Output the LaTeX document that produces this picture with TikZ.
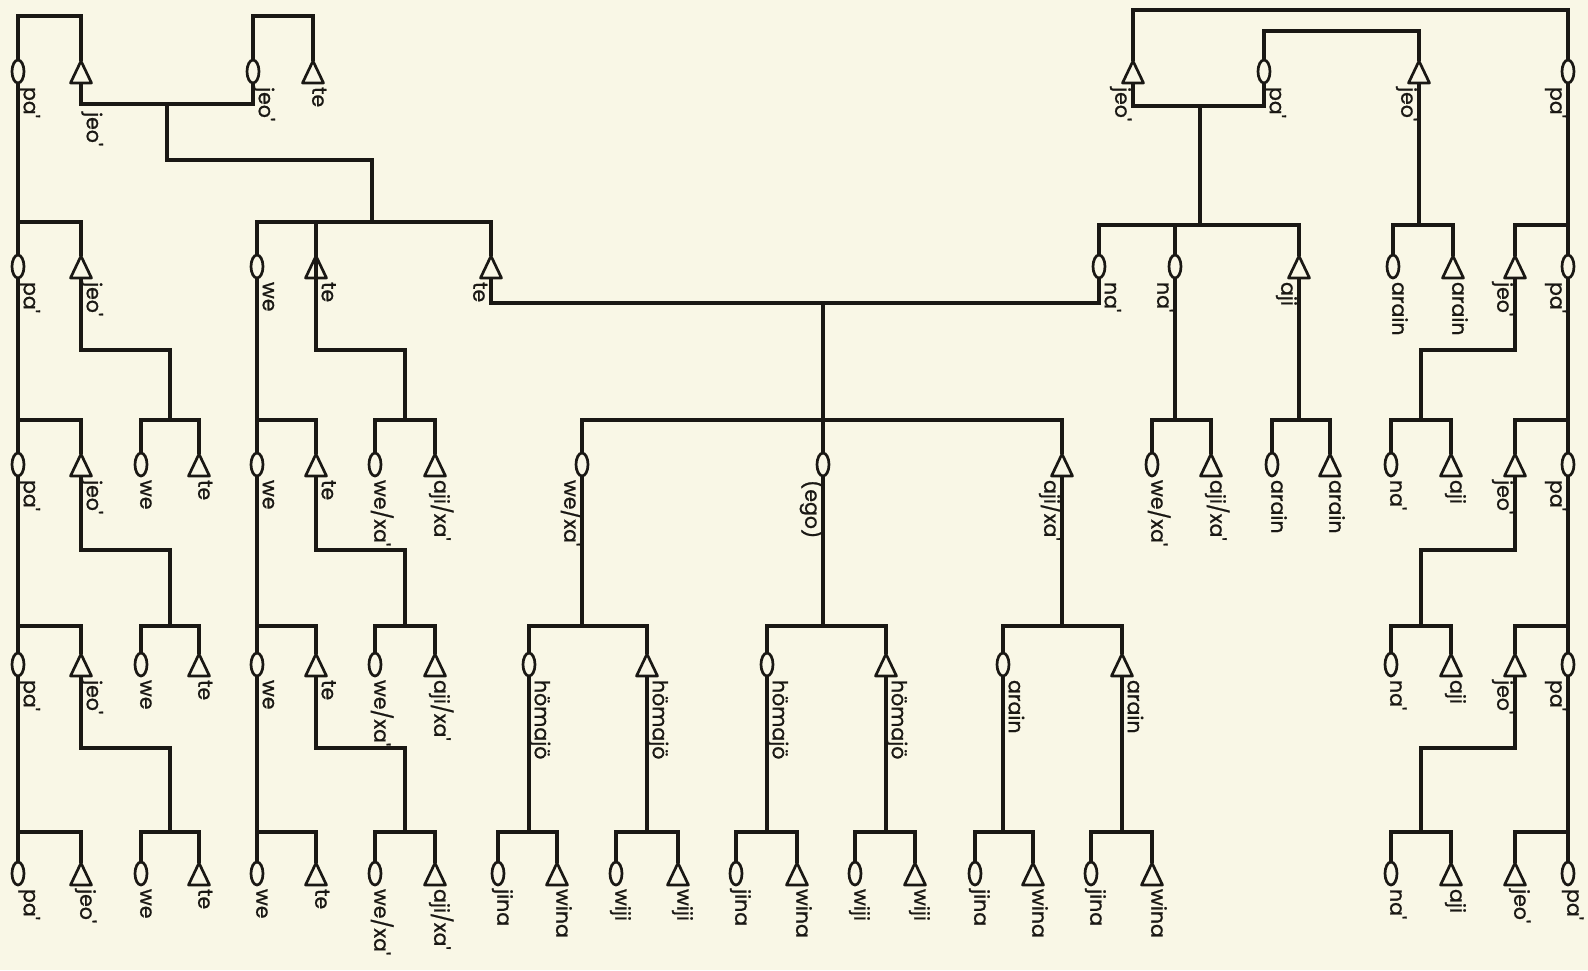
\documentclass[tikz,border=0pt]{standalone}
\usepackage{fontspec}
\setmainfont{Poppins}
\newfontfamily\labfamily{Poppins}[FakeBold=1]
\usetikzlibrary{shapes.geometric}
\definecolor{bg}{RGB}{249,247,230}
\definecolor{ink}{RGB}{26,24,20}
\newcommand{\labfont}{\labfamily\fontsize{20.5}{20.5}\selectfont}
\tikzset{
 ln/.style={draw=ink, line width=3.1pt},
 fem/.style={ellipse, draw=ink, fill=bg, line width=2.7pt, minimum width=12pt, minimum height=23pt, inner sep=0pt, outer sep=0pt, anchor=south},
 mal/.style={isosceles triangle, isosceles triangle stretches=true, shape border rotate=90, draw=ink, fill=bg, line width=2.7pt, line join=round, minimum width=21pt, minimum height=22pt, inner sep=0pt, outer sep=0pt, anchor=south},
 lab/.style={rotate=-90, inner sep=0pt, outer sep=0pt, font=\labfont, text=ink, anchor=mid west},
}
\newcommand{\labR}[3][4]{\node[lab] (t#2) at ([xshift=8.5pt,yshift=-#1pt]#2.south) {#3};}
\newcommand{\labL}[2]{\node[lab] (t#1) at ([xshift=-15pt,yshift=-4pt]#1.south) {#2};}
\newcommand{\labC}[2]{\node[lab] (t#1) at ([xshift=2pt,yshift=-4pt]#1.south) {#2};}
\newcommand{\sib}[3]{\draw[ln] (#1.north) |- (#2.north |- 0,#3) -- (#2.north);}
\newcommand{\down}[2]{\draw[ln] (#1.south) -- (#1.south |- 0,#2);}
\newcommand{\stepdown}[4]{\draw[ln] (#1.south) |- (#2,#3) -- (#2,#4);}
\begin{document}
\begin{tikzpicture}[x=1pt,y=-1pt]
\useasboundingbox (0,0) rectangle (1588,970);
\fill[bg] (0,0) rectangle (1588,970);

% ---------------- left section ----------------
\node[fem] (L1a) at (18,83) {};
\node[mal] (L1b) at (81,83) {};
\node[fem] (L1c) at (253,83) {};
\node[mal] (L1d) at (313,83) {};

\node[fem] (L2a) at (18,278) {};
\node[mal] (L2b) at (81,278) {};
\node[fem] (L2c) at (257,278) {};
\node[mal] (L2d) at (316,278) {};
\node[mal] (L2e) at (491,278) {};

\foreach \r/\y in {3/476,4/676,5/885}{
  \node[fem] (L\r a) at (18,\y) {};
  \node[mal] (L\r b) at (81,\y) {};
  \node[fem] (L\r c) at (141,\y) {};
  \node[mal] (L\r d) at (199,\y) {};
  \node[fem] (L\r e) at (257,\y) {};
  \node[mal] (L\r f) at (316,\y) {};
  \node[fem] (L\r g) at (375,\y) {};
  \node[mal] (L\r h) at (435,\y) {};
}

\sib{L1a}{L1b}{16}
\sib{L1c}{L1d}{16}
\draw[ln] (L1b.south) |- (L1c.south |- 0,104) -- (L1c.south);
\coordinate (mL) at (167,104);
\draw[ln] (mL) |- (372,160) -- (372,222);
\sib{L2c}{L2e}{222}
\down{L2d}{222}
\draw[ln] (L1a.south) -- (L2a.north);
\draw[ln] (L2a.north |- 0,222) -| (L2b.north);

% row 2 -> 3
\draw[ln] (L2a.south) -- (L3a.north);
\draw[ln] (L3a.north |- 0,420) -| (L3b.north);
\stepdown{L2b}{170}{350}{420}
\sib{L3c}{L3d}{420}
\draw[ln] (L2c.south) -- (L3e.north);
\draw[ln] (L3e.north |- 0,420) -| (L3f.north);
\stepdown{L2d}{405}{350}{420}
\sib{L3g}{L3h}{420}

% row 3 -> 4
\draw[ln] (L3a.south) -- (L4a.north);
\draw[ln] (L4a.north |- 0,626) -| (L4b.north);
\stepdown{L3b}{170}{550}{626}
\sib{L4c}{L4d}{626}
\draw[ln] (L3e.south) -- (L4e.north);
\draw[ln] (L4e.north |- 0,626) -| (L4f.north);
\stepdown{L3f}{405}{550}{626}
\sib{L4g}{L4h}{626}

% row 4 -> 5
\draw[ln] (L4a.south) -- (L5a.north);
\draw[ln] (L5a.north |- 0,832) -| (L5b.north);
\stepdown{L4b}{170}{748}{832}
\sib{L5c}{L5d}{832}
\draw[ln] (L4e.south) -- (L5e.north);
\draw[ln] (L5e.north |- 0,832) -| (L5f.north);
\stepdown{L4f}{405}{748}{832}
\sib{L5g}{L5h}{832}

% ---------------- middle section ----------------
\node[fem] (M3a) at (582,476) {};
\node[fem] (M3b) at (823,476) {};
\node[mal] (M3c) at (1062,476) {};

\node[fem] (M4a) at (529,676) {};
\node[mal] (M4b) at (647,676) {};
\node[fem] (M4c) at (767,676) {};
\node[mal] (M4d) at (886,676) {};
\node[fem] (M4e) at (1003,676) {};
\node[mal] (M4f) at (1122,676) {};

\node[fem] (M5a) at (498,885) {};
\node[mal] (M5b) at (557,885) {};
\node[fem] (M5c) at (616,885) {};
\node[mal] (M5d) at (678,885) {};
\node[fem] (M5e) at (736,885) {};
\node[mal] (M5f) at (797,885) {};
\node[fem] (M5g) at (855,885) {};
\node[mal] (M5h) at (915,885) {};
\node[fem] (M5i) at (975,885) {};
\node[mal] (M5j) at (1033,885) {};
\node[fem] (M5k) at (1091,885) {};
\node[mal] (M5l) at (1152,885) {};

% ---------------- right section ----------------
\node[mal] (R1a) at (1133,83) {};
\node[fem] (R1b) at (1264,83) {};
\node[mal] (R1c) at (1419,83) {};
\node[fem] (R1d) at (1568,83) {};

\node[fem] (R2a) at (1099,278) {};
\node[fem] (R2b) at (1175,278) {};
\node[mal] (R2c) at (1299,278) {};
\node[fem] (R2d) at (1393,278) {};
\node[mal] (R2e) at (1453,278) {};
\node[mal] (R2f) at (1515,278) {};
\node[fem] (R2g) at (1568,278) {};

\node[fem] (R3a) at (1152,476) {};
\node[mal] (R3b) at (1211,476) {};
\node[fem] (R3c) at (1272,476) {};
\node[mal] (R3d) at (1330,476) {};
\node[fem] (R3e) at (1391,476) {};
\node[mal] (R3f) at (1451,476) {};
\node[mal] (R3g) at (1515,476) {};
\node[fem] (R3h) at (1568,476) {};

\foreach \r/\y in {4/676,5/885}{
  \node[fem] (R\r a) at (1391,\y) {};
  \node[mal] (R\r b) at (1451,\y) {};
  \node[mal] (R\r c) at (1515,\y) {};
  \node[fem] (R\r d) at (1568,\y) {};
}

% middle connectors
\draw[ln] (L2e.south) |- (R2a.south |- 0,303) -- (R2a.south);
\coordinate (mM) at (823,303);
\draw[ln] (mM) -- (M3b.north);
\sib{M3a}{M3c}{420}
\down{M3a}{626}\sib{M4a}{M4b}{626}
\down{M3b}{626}\sib{M4c}{M4d}{626}
\down{M3c}{626}\sib{M4e}{M4f}{626}
\down{M4a}{832}\sib{M5a}{M5b}{832}
\down{M4b}{832}\sib{M5c}{M5d}{832}
\down{M4c}{832}\sib{M5e}{M5f}{832}
\down{M4d}{832}\sib{M5g}{M5h}{832}
\down{M4e}{832}\sib{M5i}{M5j}{832}
\down{M4f}{832}\sib{M5k}{M5l}{832}

% right connectors
\draw[ln] (R1a.north) |- (R1d.north |- 0,10) -- (R1d.north);
\sib{R1b}{R1c}{31}
\draw[ln] (R1a.south) |- (R1b.south |- 0,106) -- (R1b.south);
\coordinate (mR) at (1200,106);
\draw[ln] (mR) -- (1200,225);
\sib{R2a}{R2c}{225}
\draw[ln] (R2b.north) -- (R2b.north |- 0,225);
\down{R1c}{225}\sib{R2d}{R2e}{225}
\draw[ln] (R1d.south) -- (R2g.north);
\sib{R2f}{R2g}{225}

\down{R2b}{420}\sib{R3a}{R3b}{420}
\down{R2c}{420}\sib{R3c}{R3d}{420}
\stepdown{R2f}{1421}{350}{420}
\sib{R3e}{R3f}{420}
\draw[ln] (R2g.south) -- (R3h.north);
\sib{R3g}{R3h}{420}

\stepdown{R3g}{1421}{550}{626}
\sib{R4a}{R4b}{626}
\draw[ln] (R3h.south) -- (R4d.north);
\sib{R4c}{R4d}{626}

\stepdown{R4c}{1421}{748}{832}
\sib{R5a}{R5b}{832}
\draw[ln] (R4d.south) -- (R5d.north);
\sib{R5c}{R5d}{832}

% ---------------- labels ----------------
\labR{L1a}{pa'}
\labR[29]{L1b}{jeo'}
\labR{L1c}{jeo'}
\labC{L1d}{te}
\labR{L2a}{pa'}
\labR{L2b}{jeo'}
\labR{L2c}{we}
\labR{L2d}{te}
\labL{L2e}{te}
\labR{L3a}{pa'}
\labR{L3b}{jeo'}
\labC{L3c}{we}
\labC{L3d}{te}
\labR{L3e}{we}
\labR{L3f}{te}
\labC{L3g}{we/xa'}
\labC{L3h}{aji/xa'}
\labR{L4a}{pa'}
\labR{L4b}{jeo'}
\labC{L4c}{we}
\labC{L4d}{te}
\labR{L4e}{we}
\labR{L4f}{te}
\labC{L4g}{we/xa'}
\labC{L4h}{aji/xa'}
\labR{L5a}{pa'}
\labC{L5b}{jeo'}
\labC{L5c}{we}
\labC{L5d}{te}
\labC{L5e}{we}
\labC{L5f}{te}
\labC{L5g}{we/xa'}
\labC{L5h}{aji/xa'}

\labL{M3a}{we/xa'}
\labL{M3b}{(ego)}
\labL{M3c}{aji/xa'}
\labR{M4a}{hömajö}
\labR{M4b}{hömajö}
\labR{M4c}{hömajö}
\labR{M4d}{hömajö}
\labR{M4e}{arain}
\labR{M4f}{arain}
\labC{M5a}{jina}
\labC{M5b}{wina}
\labC{M5c}{wiji}
\labC{M5d}{wiji}
\labC{M5e}{jina}
\labC{M5f}{wina}
\labC{M5g}{wiji}
\labC{M5h}{wiji}
\labC{M5i}{jina}
\labC{M5j}{wina}
\labC{M5k}{jina}
\labC{M5l}{wina}

\labL{R1a}{jeo'}
\labR{R1b}{pa'}
\labL{R1c}{jeo'}
\labL{R1d}{pa'}
\labR{R2a}{na'}
\labL{R2b}{na'}
\labL{R2c}{aji}
\labC{R2d}{arain}
\labC{R2e}{arain}
\labL{R2f}{jeo'}
\labL{R2g}{pa'}
\labC{R3a}{we/xa'}
\labC{R3b}{aji/xa'}
\labC{R3c}{arain}
\labC{R3d}{arain}
\labC{R3e}{na'}
\labC{R3f}{aji}
\labL{R3g}{jeo'}
\labL{R3h}{pa'}
\labC{R4a}{na'}
\labC{R4b}{aji}
\labL{R4c}{jeo'}
\labL{R4d}{pa'}
\labC{R5a}{na'}
\labC{R5b}{aji}
\labC{R5c}{jeo'}
\labC{R5d}{pa'}
\end{tikzpicture}
\end{document}
